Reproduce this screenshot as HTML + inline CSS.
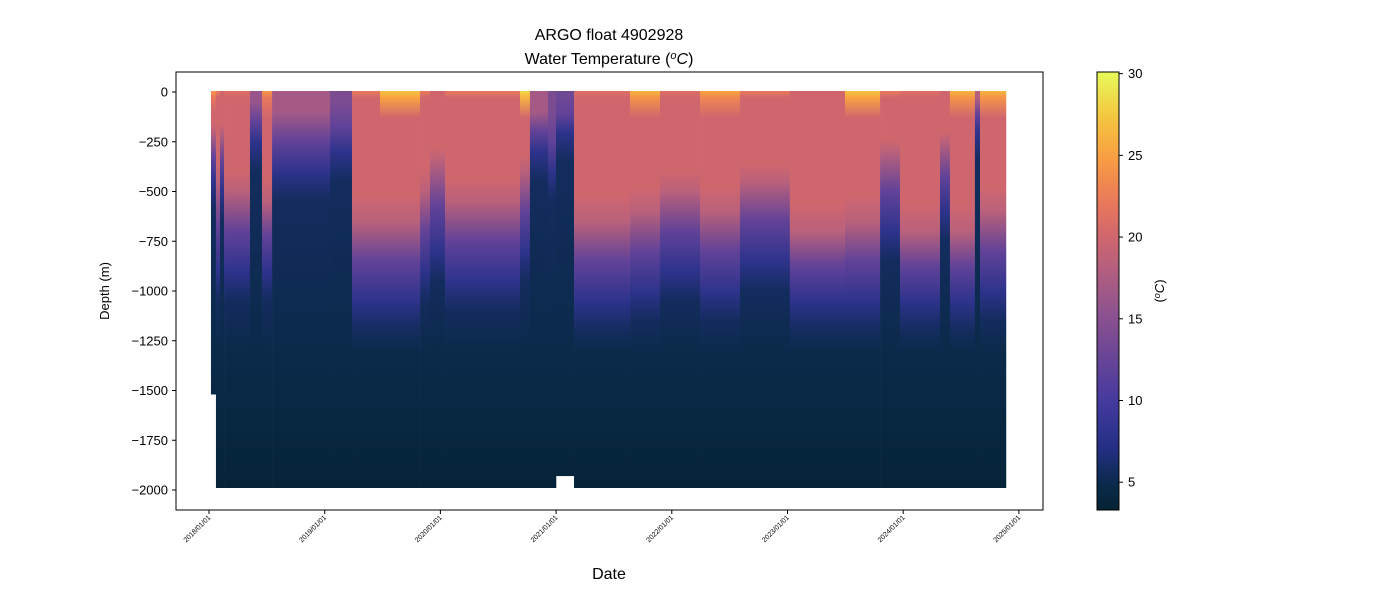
<!DOCTYPE html>
<html><head><meta charset="utf-8">
<style>
body{margin:0;background:#fff;}
svg{display:block;font-family:"Liberation Sans","DejaVu Sans",sans-serif;}
</style></head>
<body>
<svg id="chart" width="1400" height="600" viewBox="0 0 1400 600">
<defs id="defs"></defs>
<text x="609" y="40" text-anchor="middle" font-size="16">ARGO float 4902928</text>
<text x="609" y="64" text-anchor="middle" font-size="16">Water Temperature (<tspan font-style="italic" dy="-5" font-size="11">o</tspan><tspan font-style="italic" dy="5">C</tspan>)</text>
<g id="plot"></g>
<rect x="176" y="72" width="867" height="438" fill="none" stroke="#000" stroke-width="1"/>
<g id="yaxis"></g>
<g id="xaxis"></g>
<text transform="translate(109,291) rotate(-90)" text-anchor="middle" font-size="13">Depth (m)</text>
<text x="609" y="579" text-anchor="middle" font-size="16">Date</text>
<g id="cbar"></g>
<text transform="translate(1164,291) rotate(-90)" text-anchor="middle" font-size="13">(<tspan font-style="italic" dy="-4" font-size="9">o</tspan><tspan font-style="italic" dy="4">C</tspan>)</text>
</svg>
<script>
// ---- data ----
const segStart = [2018.017,2018.06,2018.095,2018.13,2018.354,2018.458,2018.545,2019.046,2019.236,2019.478,2019.824,2019.91,2020.04,2020.688,2020.774,2020.93,2020.999,2021.155,2021.639,2021.898,2022.244,2022.589,2023.02,2023.497,2023.80,2023.972,2024.318,2024.404,2024.62,2024.664];
const segEnd   = [2018.06,2018.095,2018.13,2018.354,2018.458,2018.545,2019.046,2019.236,2019.478,2019.824,2019.91,2020.04,2020.688,2020.774,2020.93,2020.999,2021.155,2021.639,2021.898,2022.244,2022.589,2023.02,2023.497,2023.80,2023.972,2024.318,2024.404,2024.62,2024.664,2024.888];
const surfTemp = [24,22,20,21,16,24,17,14,22,27,22,20,22,28,17,14,13,21,26,21,25,22,20,27,22,21,20,26,18,26];
const warmDepth = [200,450,200,500,50,550,100,50,650,650,500,350,550,400,100,100,30,650,600,500,600,450,700,650,300,700,250,700,30,600];
const coldDepth = [450,900,500,900,250,900,400,300,1050,1050,900,800,950,800,300,400,200,1050,1000,900,1000,850,1050,1050,700,1050,600,1050,200,1000];
const maxDepth = [1520,1990,1990,1990,1990,1990,1990,1990,1990,1990,1990,1990,1990,1990,1990,1990,1930,1990,1990,1990,1990,1990,1990,1990,1990,1990,1990,1990,1990,1990];
const yTicks = [0,-250,-500,-750,-1000,-1250,-1500,-1750,-2000];
const xTickYears = [2018,2019,2020,2021,2022,2023,2024,2025];
const xTickLabels = ["2018/01/01","2019/01/01","2020/01/01","2021/01/01","2022/01/01","2023/01/01","2024/01/01","2025/01/01"];
const cbTicks = [5,10,15,20,25,30];

// ---- scales ----
const xs = d => 209 + (d-2018)*115.7;
const ys = v => 92 - v*0.199;
const cs = t => 510 - (t-3.3)*(438/26.8);
const cmap = [[0,"#042333"],[0.06,"#0b2a4c"],[0.14,"#232f83"],[0.25,"#453a9f"],[0.35,"#6a4596"],[0.44,"#8a5190"],[0.55,"#b45f7f"],[0.63,"#d2676c"],[0.7,"#e8785c"],[0.8,"#f89c42"],[0.9,"#f4c840"],[1,"#e8fa5b"]];
function hex(h){return [parseInt(h.slice(1,3),16),parseInt(h.slice(3,5),16),parseInt(h.slice(5,7),16)];}
function color(t){
  let u=(t-3.3)/(30.1-3.3);u=Math.max(0,Math.min(1,u));
  for(let i=1;i<cmap.length;i++){if(u<=cmap[i][0]){const a=cmap[i-1],b=cmap[i];const f=(u-a[0])/(b[0]-a[0]);const A=hex(a[1]),B=hex(b[1]);return "rgb("+A.map((c,k)=>Math.round(c+(B[k]-c)*f)).join(",")+")";}}
  return cmap[cmap.length-1][1];
}
const NS="http://www.w3.org/2000/svg";
function mk(tag,attrs,parent){const e=document.createElementNS(NS,tag);for(const k in attrs)e.setAttribute(k,attrs[k]);parent.appendChild(e);return e;}
const defs=document.getElementById('defs'), plot=document.getElementById('plot');

// ---- segments ----
segStart.forEach((s,i)=>{
  const g=mk('linearGradient',{id:'g'+i,gradientUnits:'userSpaceOnUse',x1:0,y1:ys(0),x2:0,y2:ys(-2000)},defs);
  const w=warmDepth[i], c=coldDepth[i];
  const warm=Math.min(20,surfTemp[i]);
  const prof=[[0,surfTemp[i]],[Math.min(30,w*0.3),Math.max(warm,surfTemp[i]-2)],[Math.min(130,w*0.5),warm],[w*0.8,warm],[w,Math.min(warm,18.5)],[(w+c)/2,12],[c,8],[c+150,5.6],[1300,4.8],[2000,3.6]];
  prof.sort((a,b)=>a[0]-b[0]);
  prof.forEach(p=>mk('stop',{offset:(p[0]/2000).toFixed(4),'stop-color':color(p[1])},g));
  const x0=xs(s), x1=xs(segEnd[i]);
  const r=mk('rect',{x:x0.toFixed(2),y:ys(0)-1,width:(x1-x0+0.3).toFixed(2),height:(ys(-maxDepth[i])-ys(0)+1).toFixed(2),fill:'url(#g'+i+')'},plot);
  
  
});

// ---- y axis ----
const ya=document.getElementById('yaxis');
yTicks.forEach(v=>{
  const y=ys(v);
  const l=mk('line',{x1:172,x2:176,y1:y,y2:y,stroke:'#000'},ya);
  
  
  const t=mk('text',{x:168,y:y+4.5,'text-anchor':'end','font-size':13},ya);
  
  
  t.textContent=v===0?"0":"\u2212"+Math.abs(v);
});
// ---- x axis ----
const xa=document.getElementById('xaxis');
xTickYears.forEach((d,i)=>{
  const x=xs(d);
  const l=mk('line',{x1:x,x2:x,y1:510,y2:514,stroke:'#000'},xa);
  
  
  const t=mk('text',{transform:'translate('+(x+2)+',518) rotate(-45)','text-anchor':'end','font-size':7},xa);
  
  
  t.textContent=xTickLabels[i];
});
// ---- colorbar ----
const cb=document.getElementById('cbar');
const cg=mk('linearGradient',{id:'cbg',x1:0,y1:1,x2:0,y2:0},defs);
cmap.forEach(c=>mk('stop',{offset:c[0],'stop-color':c[1]},cg));
const cr=mk('rect',{x:1097,y:72,width:22,height:438,fill:'url(#cbg)',stroke:'#000','stroke-width':1},cb);


cbTicks.forEach(v=>{
  const y=cs(v);
  const l=mk('line',{x1:1119,x2:1123,y1:y,y2:y,stroke:'#000'},cb);
  
  
  const t=mk('text',{x:1128,y:y+4.5,'font-size':13},cb);
  
  
  t.textContent=v;
});
</script>
</body></html>
